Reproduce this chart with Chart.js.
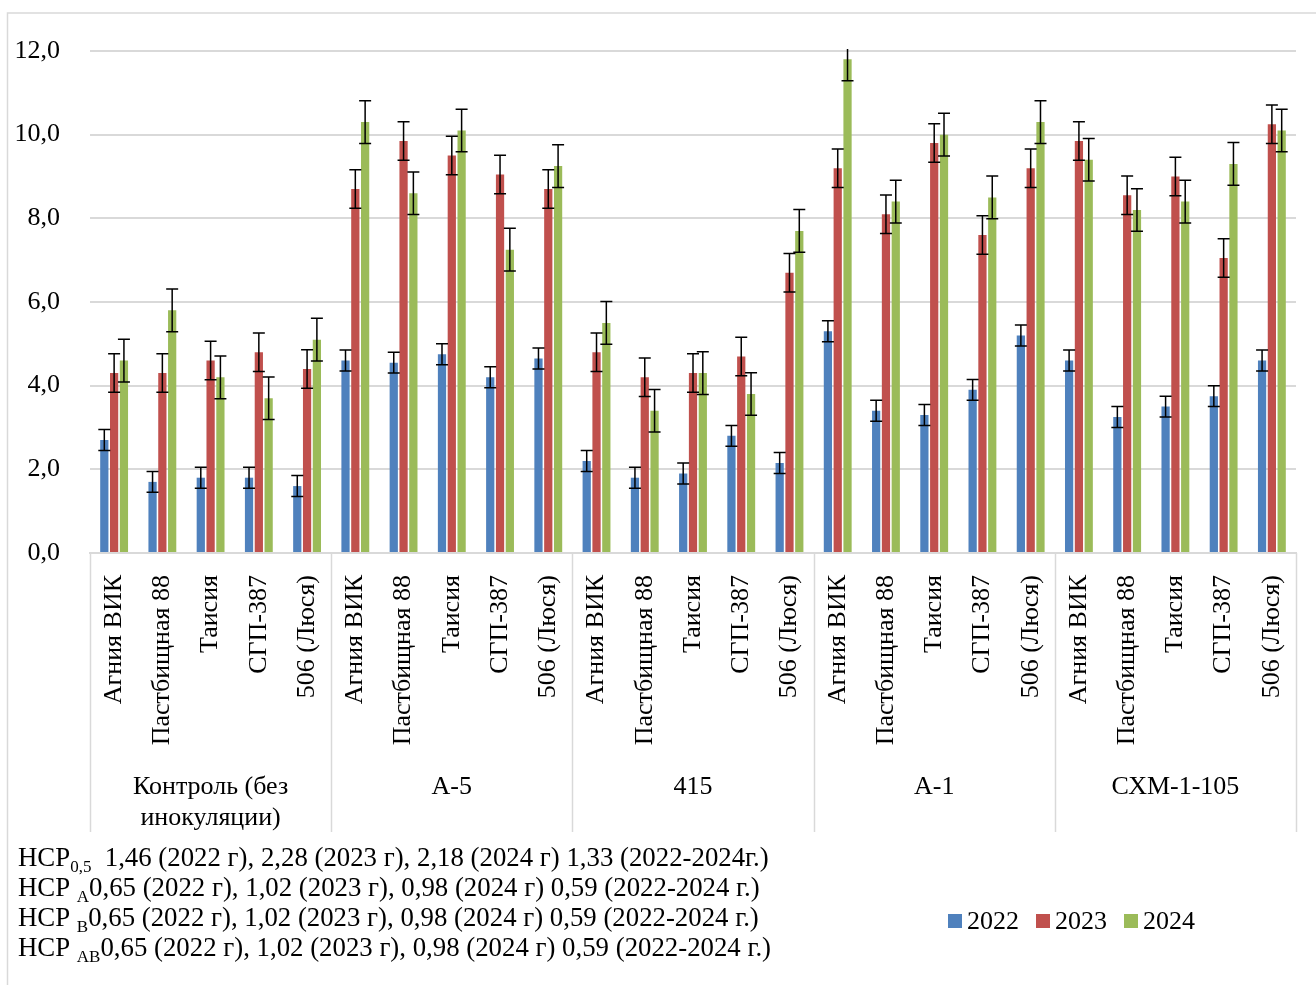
<!DOCTYPE html>
<html>
<head>
<meta charset="utf-8">
<script src="https://cdn.jsdelivr.net/npm/chart.js@4.4.0/dist/chart.umd.min.js"></script>
<style>
  html, body { margin: 0; padding: 0; background: #fff; }
  canvas { display: block; }
</style>
</head>
<body>
<canvas id="chart" width="1316" height="985"></canvas>
<script>
// Inoculation treatments (outer axis level) and varieties (inner level)
const groups = [['Контроль (без', 'инокуляции)'], ['А-5'], ['415'], ['А-1'], ['СХМ-1-105']];
const varieties = ['Агния ВИК', 'Пастбищная 88', 'Таисия', 'СГП-387', '506 (Люся)'];
const years = ['2022', '2023', '2024'];
const colors = ['#4F81BD', '#C0504D', '#9BBB59'];

// Values per year, in the order groups x varieties
const values2022 = [2.7, 1.7, 1.8, 1.8, 1.6,  4.6, 4.55, 4.75, 4.2, 4.65,  2.2, 1.8, 1.9, 2.8, 2.15,  5.3, 3.4, 3.3, 3.9, 5.2,  4.6, 3.25, 3.5, 3.75, 4.6];
const values2023 = [4.3, 4.3, 4.6, 4.8, 4.4,  8.7, 9.85, 9.5, 9.05, 8.7,  4.8, 4.2, 4.3, 4.7, 6.7,  9.2, 8.1, 9.8, 7.6, 9.2,  9.85, 8.55, 9.0, 7.05, 10.25];
const values2024 = [4.6, 5.8, 4.2, 3.7, 5.1,  10.3, 8.6, 10.1, 7.25, 9.25,  5.5, 3.4, 4.3, 3.8, 7.7,  11.8, 8.4, 10.0, 8.5, 10.3,  9.4, 8.2, 8.4, 9.3, 10.1];

// Error bar half-widths per year
const errors2022 = [0.25, 0.25, 0.25, 0.25, 0.25,  0.25, 0.25, 0.25, 0.25, 0.25,  0.25, 0.25, 0.25, 0.25, 0.25,  0.25, 0.25, 0.25, 0.25, 0.25,  0.25, 0.25, 0.25, 0.25, 0.25];
const errors2023 = [0.46, 0.46, 0.46, 0.46, 0.46,  0.46, 0.46, 0.46, 0.46, 0.46,  0.46, 0.46, 0.46, 0.46, 0.46,  0.46, 0.46, 0.46, 0.46, 0.46,  0.46, 0.46, 0.46, 0.46, 0.46];
const errors2024 = [0.51, 0.51, 0.51, 0.51, 0.51,  0.51, 0.51, 0.51, 0.51, 0.51,  0.51, 0.51, 0.51, 0.51, 0.51,  0.51, 0.51, 0.51, 0.51, 0.51,  0.51, 0.51, 0.51, 0.51, 0.51];

const yMin = 0, yMax = 12, yStep = 2;

// LSD notes under the chart: [main, subscript, rest]
const notes = [
  ['НСР', '0,5', '  1,46 (2022 г), 2,28 (2023 г), 2,18 (2024 г) 1,33 (2022-2024г.)'],
  ['НСР ', 'А', '0,65 (2022 г), 1,02 (2023 г), 0,98 (2024 г) 0,59 (2022-2024 г.)'],
  ['НСР ', 'В', '0,65 (2022 г), 1,02 (2023 г), 0,98 (2024 г) 0,59 (2022-2024 г.)'],
  ['НСР ', 'АВ', '0,65 (2022 г), 1,02 (2023 г), 0,98 (2024 г) 0,59 (2022-2024 г.)']
];

const FONT = "'Liberation Serif', 'Times New Roman', serif";
const GRID = '#D9D9D9';

const labels = [];
groups.forEach(() => varieties.forEach(v => labels.push(v)));

const seriesValues = [values2022, values2023, values2024];
const seriesErrors = [errors2022, errors2023, errors2024];

const datasets = years.map((yr, i) => ({
  label: yr,
  data: seriesValues[i],
  errors: seriesErrors[i],
  backgroundColor: colors[i],
  borderWidth: 0,
  categoryPercentage: 0.61,
  barPercentage: 0.84
}));

// White page background and thin frame
const frame = {
  id: 'frame',
  beforeDraw(chart) {
    const ctx = chart.ctx;
    ctx.save();
    ctx.fillStyle = '#fff';
    ctx.fillRect(0, 0, chart.width, chart.height);
    ctx.strokeStyle = GRID;
    ctx.lineWidth = 1.5;
    ctx.strokeRect(7.5, 13, chart.width + 20, chart.height + 20);
    ctx.restore();
  }
};

// Vertical error bars with caps
const errorBars = {
  id: 'errorBars',
  afterDatasetsDraw(chart) {
    const { ctx, chartArea: a, scales: { y } } = chart;
    ctx.save();
    ctx.beginPath();
    ctx.rect(a.left, a.top - 2, a.right - a.left, a.bottom - a.top + 2);
    ctx.clip();
    ctx.strokeStyle = '#000';
    ctx.lineWidth = 1.5;
    chart.data.datasets.forEach((ds, i) => {
      const meta = chart.getDatasetMeta(i);
      meta.data.forEach((bar, j) => {
        const v = ds.data[j], e = ds.errors[j];
        const yt = y.getPixelForValue(v + e);
        const yb = y.getPixelForValue(v - e);
        const x = bar.x;
        ctx.beginPath();
        ctx.moveTo(x, yt); ctx.lineTo(x, yb);
        ctx.moveTo(x - 6, yt); ctx.lineTo(x + 6, yt);
        ctx.moveTo(x - 6, yb); ctx.lineTo(x + 6, yb);
        ctx.stroke();
      });
    });
    ctx.restore();
  }
};

// Outer category level: separators and treatment names
const groupAxis = {
  id: 'groupAxis',
  afterDraw(chart) {
    const { ctx, chartArea: a, scales: { x } } = chart;
    const n = varieties.length;
    const edges = [a.left];
    for (let g = 1; g < groups.length; g++) {
      edges.push((x.getPixelForTick(g * n - 1) + x.getPixelForTick(g * n)) / 2);
    }
    edges.push(a.right);
    ctx.save();
    ctx.strokeStyle = GRID;
    ctx.lineWidth = 1.5;
    edges.forEach(px => {
      ctx.beginPath();
      ctx.moveTo(Math.round(px) + 0.5, a.bottom);
      ctx.lineTo(Math.round(px) + 0.5, a.bottom + 279);
      ctx.stroke();
    });
    ctx.fillStyle = '#000';
    ctx.font = '26px ' + FONT;
    ctx.textAlign = 'center';
    ctx.textBaseline = 'middle';
    groups.forEach((lines, g) => {
      const cx = (edges[g] + edges[g + 1]) / 2;
      lines.forEach((t, k) => ctx.fillText(t, cx, a.bottom + 234 + k * 31));
    });
    ctx.restore();
  }
};

// Legend row and LSD notes
const notesAndLegend = {
  id: 'notesAndLegend',
  afterDraw(chart) {
    const ctx = chart.ctx;
    ctx.save();
    ctx.fillStyle = '#000';
    ctx.textBaseline = 'middle';
    ctx.textAlign = 'left';
    notes.forEach((parts, i) => {
      const y = 859 + i * 30;
      let xx = 18;
      ctx.font = '26.8px ' + FONT;
      ctx.fillText(parts[0], xx, y);
      xx += ctx.measureText(parts[0]).width;
      ctx.font = '17px ' + FONT;
      ctx.fillText(parts[1], xx, y + 9);
      xx += ctx.measureText(parts[1]).width;
      ctx.font = '26.8px ' + FONT;
      ctx.fillText(parts[2], xx, y);
    });
    // legend
    let lx = 948;
    const ly = 921;
    ctx.font = '26px ' + FONT;
    chart.data.datasets.forEach(ds => {
      ctx.fillStyle = ds.backgroundColor;
      ctx.fillRect(lx, ly - 7, 14, 14);
      ctx.fillStyle = '#000';
      ctx.fillText(ds.label, lx + 19, ly + 1);
      lx += 19 + ctx.measureText(ds.label).width + 17;
    });
    ctx.restore();
  }
};

Chart.defaults.font.family = FONT;
Chart.defaults.color = '#000';

new Chart(document.getElementById('chart'), {
  type: 'bar',
  data: { labels, datasets },
  options: {
    responsive: false,
    animation: false,
    layout: { padding: { top: 51, right: 20, bottom: 0, left: 0 } },
    plugins: { legend: { display: false }, tooltip: { enabled: false } },
    scales: {
      x: {
        grid: { display: false, drawTicks: false },
        border: { display: true, color: GRID, width: 2 },
        ticks: {
          autoSkip: false,
          minRotation: 90,
          maxRotation: 90,
          padding: 22,
          font: { family: FONT, size: 26 },
          color: '#000'
        },
        afterFit(scale) {
          scale.height = 432;
          scale.paddingLeft = 0;
          scale.paddingRight = 0;
        }
      },
      y: {
        min: yMin,
        max: yMax,
        grid: { color: GRID, lineWidth: 2, drawTicks: false },
        border: { display: false },
        ticks: {
          stepSize: yStep,
          padding: 30,
          font: { family: FONT, size: 26 },
          color: '#000',
          callback: v => v.toFixed(1).replace('.', ',')
        },
        afterFit(scale) {
          scale.width = 90;
          scale.paddingTop = 0;
          scale.paddingBottom = 0;
        }
      }
    }
  },
  plugins: [frame, errorBars, groupAxis, notesAndLegend]
});
</script>
</body>
</html>
